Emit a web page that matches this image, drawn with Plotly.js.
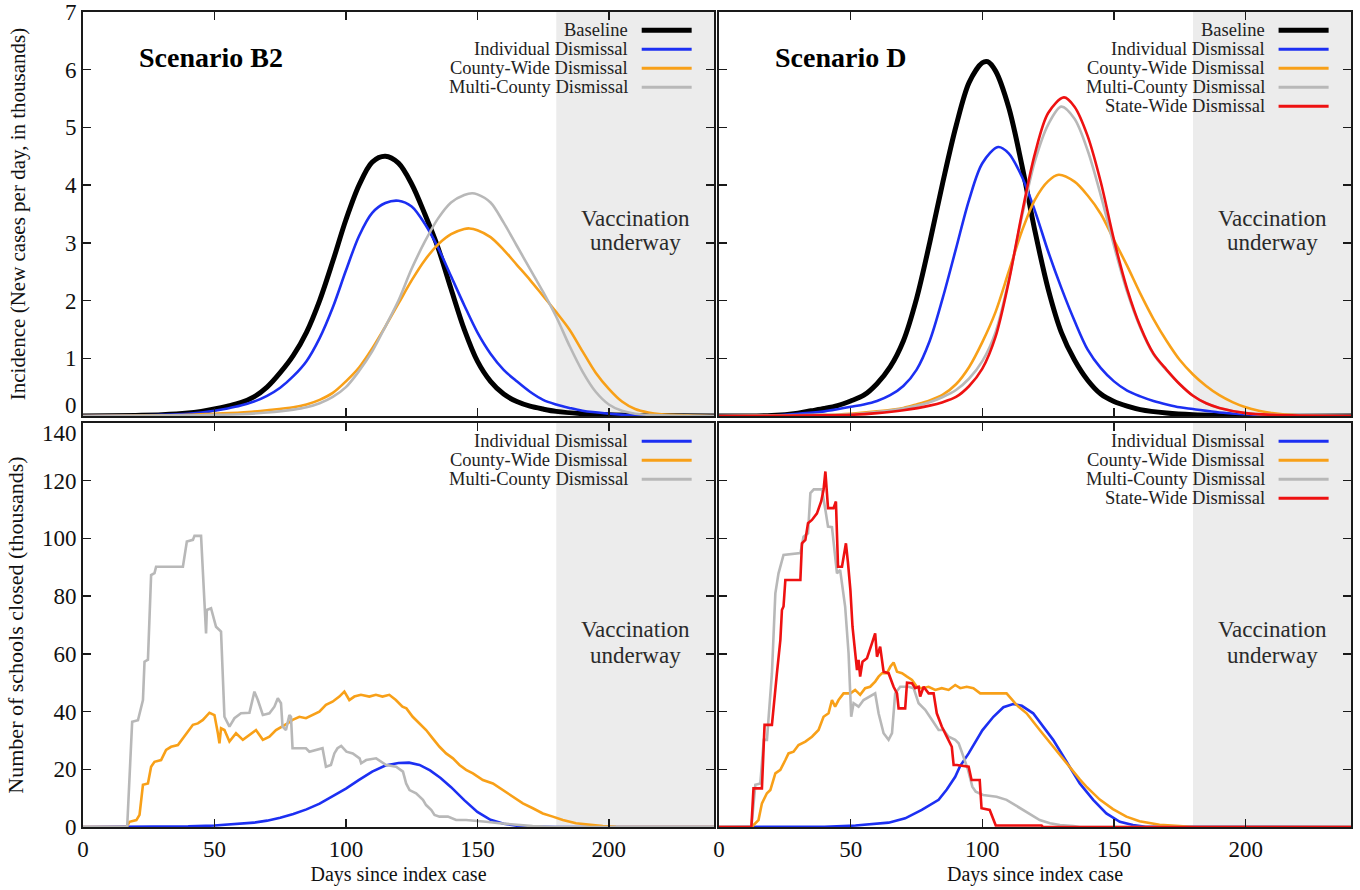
<!DOCTYPE html>
<html>
<head>
<meta charset="utf-8">
<script src="https://cdn.plot.ly/plotly-3.0.1.min.js"></script>
<style>
html, body { margin: 0; padding: 0; background: #ffffff; }
#chart { width: 1360px; height: 890px; }
</style>
</head>
<body>
<div id="chart"></div>
<script>
// ---------------- DATA ----------------
// Scenario B2, incidence (thousands of new cases per day)
const b2BaselineDays = [0,20,30,40,45,50,55,60,65,70,75,80,85,90,95,100,105,110,115,120,125,130,135,140,145,150,155,160,165,170,175,180,190,200,210,240];
const b2BaselineInc  = [0,0.01,0.02,0.05,0.08,0.12,0.17,0.23,0.33,0.5,0.75,1.05,1.45,2.0,2.68,3.4,4.0,4.4,4.5,4.38,4.02,3.5,2.92,2.2,1.5,0.95,0.6,0.38,0.25,0.17,0.12,0.08,0.04,0.02,0.01,0];
const b2IndivDays = [0,20,30,40,50,55,60,65,70,75,80,85,90,95,100,105,110,115,120,125,130,135,140,145,150,155,160,165,170,175,180,185,190,200,210,240];
const b2IndivInc  = [0,0.01,0.02,0.04,0.09,0.13,0.18,0.25,0.35,0.49,0.69,0.95,1.35,1.88,2.52,3.12,3.52,3.69,3.73,3.63,3.33,2.92,2.42,1.92,1.45,1.08,0.8,0.6,0.42,0.28,0.2,0.14,0.09,0.04,0.01,0];
const b2CountyDays = [0,30,40,50,60,70,80,85,90,95,100,105,110,115,120,125,130,135,140,145,147,150,155,160,165,170,175,180,185,190,195,200,205,210,215,220,230,240];
const b2CountyInc  = [0,0.01,0.02,0.04,0.06,0.1,0.15,0.2,0.28,0.4,0.6,0.84,1.17,1.55,1.95,2.35,2.7,2.97,3.15,3.24,3.25,3.22,3.1,2.88,2.62,2.36,2.08,1.8,1.5,1.12,0.75,0.47,0.25,0.12,0.06,0.03,0.01,0];
const b2MultiDays = [0,40,50,60,70,80,85,90,95,100,105,110,115,120,125,130,135,140,145,148,150,155,160,165,170,175,180,185,190,195,200,205,210,220,240];
const b2MultiInc  = [0,0.01,0.02,0.03,0.06,0.11,0.15,0.22,0.33,0.5,0.78,1.12,1.55,2.0,2.55,3.02,3.42,3.7,3.83,3.86,3.84,3.7,3.35,2.95,2.55,2.15,1.72,1.22,0.77,0.42,0.2,0.09,0.04,0.01,0];

// Scenario D, incidence
const dBaselineDays = [0,20,30,35,40,45,50,55,60,65,70,75,80,85,90,95,100,102,105,110,115,120,125,130,135,140,145,150,155,160,170,180,200,240];
const dBaselineInc  = [0,0.01,0.05,0.09,0.13,0.18,0.26,0.36,0.56,0.85,1.3,2.03,3.0,4.05,5.02,5.78,6.12,6.14,5.98,5.35,4.35,3.2,2.2,1.45,0.97,0.62,0.38,0.25,0.17,0.11,0.05,0.02,0,0];
const dIndivDays = [0,20,30,40,50,55,60,65,70,75,80,85,90,95,100,106,110,115,120,125,130,135,140,145,150,155,160,165,170,175,180,190,200,210,240];
const dIndivInc  = [0,0.01,0.04,0.08,0.16,0.2,0.26,0.36,0.52,0.8,1.3,2.05,2.9,3.75,4.38,4.66,4.55,4.15,3.55,2.85,2.22,1.65,1.15,0.83,0.6,0.44,0.34,0.26,0.2,0.15,0.12,0.06,0.03,0.01,0];
const dCountyDays = [0,40,50,60,70,75,80,85,90,95,100,105,110,115,120,125,129,135,140,145,150,155,160,165,170,175,180,185,190,195,200,205,210,220,240];
const dCountyInc  = [0,0.02,0.04,0.08,0.14,0.2,0.27,0.37,0.55,0.85,1.28,1.8,2.5,3.2,3.75,4.07,4.18,4.06,3.82,3.5,3.05,2.6,2.12,1.68,1.3,0.97,0.72,0.52,0.36,0.24,0.15,0.09,0.05,0.01,0];
const dMultiDays = [0,40,50,60,70,80,85,90,95,100,105,110,115,120,125,130,135,140,145,150,155,160,165,170,175,180,185,190,200,210,240];
const dMultiInc  = [0,0.02,0.03,0.07,0.13,0.24,0.33,0.45,0.65,0.95,1.45,2.35,3.45,4.42,5.05,5.36,5.15,4.6,3.82,2.95,2.15,1.53,1.07,0.79,0.55,0.35,0.22,0.14,0.05,0.02,0];
const dStateDays = [0,40,50,60,70,80,85,90,95,100,105,110,115,120,125,131,135,140,145,150,155,160,165,170,175,180,185,190,200,210,240];
const dStateInc  = [0,0.01,0.02,0.05,0.1,0.18,0.24,0.33,0.52,0.82,1.37,2.32,3.5,4.55,5.25,5.52,5.36,4.85,4.05,3.05,2.2,1.55,1.08,0.8,0.55,0.35,0.22,0.14,0.05,0.02,0];

// Scenario B2, schools closed (thousands)
const b2IndivSchDays = [0,20,40,50,60,65,70,75,80,85,90,95,100,105,110,115,120,124,128,132,136,140,145,150,155,160,165,170,180,240];
const b2IndivSch     = [0,0,0.2,0.5,1.0,1.5,2.2,3.2,4.5,6.1,8.1,10.7,13.3,16.3,19.2,21.3,22.2,22.3,21.5,19.6,17,13.8,9.3,5.2,2.5,1.1,0.45,0.15,0,0];
const b2CountySchDays = [0,16.5,17.7,20.3,21.5,22.8,24.7,25.9,27.2,29.7,31.6,33.5,36.1,38,39.2,41.8,43.7,45.6,48.1,50,51.3,51.9,52.5,53.8,55.7,58.2,60.8,63.3,65.8,68.4,70.9,73.4,75.9,77.8,79.7,82.3,84.8,87.3,89.9,92.4,94.9,97.5,99.4,101.3,103.2,105.7,108.9,111.4,113.9,116.5,119,121.5,123,125.4,128,130.5,133,135.6,138.1,140.7,143.2,145.7,148.3,152.1,155.9,159.7,163.5,167.3,171.1,174.9,178.7,182.5,187.5,192.6,197.7,202.7,210,240];
const b2CountySch     = [0,0,1.8,2.4,4.2,14.6,15.1,20.9,22.6,23.2,26.7,27.8,28.4,30.7,32.5,35.4,35.9,37.1,39.6,38.8,32.5,29,34.2,33.6,29.6,32.5,30.2,31.9,33.6,30.2,31.3,33.6,34.8,35.9,37.1,38.2,37.7,38.8,40,42.3,43.4,45.2,46.9,44,45.2,45.8,45.2,45.8,45.2,45.8,44,41.7,41.1,38.2,35.9,33.6,30.7,27.8,25.5,23.8,21.5,19.8,18.6,16.3,15.1,12.8,10.5,8.2,6.5,4.7,3.6,2.4,1.3,0.7,0.3,0.1,0,0];
const b2MultiSchDays = [0,16.8,18.7,20.9,22.8,23.4,24.7,25.9,27.2,27.8,38,39.5,41.8,42.4,44.9,46.8,47.1,48.7,50.6,52.5,53.8,55.7,57.6,60.1,63.3,65.2,66.5,68.4,70.9,72.8,74.1,75.3,75.9,77.2,78.5,79.1,79.7,84.8,86.1,88.6,91.1,92.4,94.3,95.6,96.8,98.2,100.2,102.6,105.2,105.8,107.7,111.5,115.3,119.1,121.7,122.9,124.2,126.7,129.3,130.5,132.5,133.7,135.6,138.8,141.9,145.7,149.5,153.3,158.4,164.7,171,177.4,185,240];
const b2MultiSch     = [0,0,36.5,37,44,57.3,58,87.3,88,90.2,90.2,98.9,99.5,100.9,100.9,67.1,75.2,75.8,69.4,67.7,38.2,34.8,37.7,39.4,39.6,46.9,44,38.8,39.4,41.7,44.6,42.9,34.8,33.6,38.8,38.2,27.3,27.3,26.1,26.7,27.3,20.9,21.5,25.5,27.3,28.1,26.1,25.5,23.8,22.1,23.2,23.8,21.5,20.9,19.2,15.1,12.8,11.7,9.4,7.6,5.9,4.2,3.6,3.6,2.4,2.4,2.2,1.8,1.3,0.7,0.3,0.1,0,0];

// Scenario D, schools closed (thousands)
const dIndivSchDays = [0,30,40,51.8,64.4,70.7,77,83.4,86.5,89.7,91.5,94.8,97.8,100,104.2,108,111.7,115,119.3,122,126.9,132,137,142.1,147.1,152.2,157.2,162,240];
const dIndivSch     = [0,0,0.1,0.5,1.5,3,5.9,9.4,13,17.4,21,25.5,30.2,33.5,38.2,41.5,42.6,42,39.4,36,30.2,22.6,15.1,9.4,4.7,1.8,0.7,0.1,0];
const dCountySchDays = [0,12.4,15,16.3,18.2,19.5,21.4,23.3,25.2,26.4,28.3,30.2,32.8,35.3,37.8,39.7,41.6,42.9,44.1,45.4,47.3,49.9,51.7,53.6,55.5,57.4,59.3,60.6,61.9,63.8,65.1,66.3,67.6,69.5,71.4,73.3,75.1,77,79.6,82.1,84.6,87.2,89.7,91.6,94.1,96.6,99.2,104.2,109.2,113,116.8,121.8,126.9,132,137,139.5,144.6,149.6,154.7,159.7,167.3,174.9,180,240];
const dCountySch     = [0,0,2.4,8.2,11.7,12.8,18.6,19.8,23.2,25.5,26.1,28.4,29.6,31.3,33.6,38.2,39.4,44,41.7,44,46.3,46.3,47.5,45.8,48.1,48.6,50.4,52.1,53.3,53.3,55.6,57,53.8,53.3,52.1,51,48.6,48.1,48.6,47.5,48.1,47.5,49.2,48.1,48.6,48.1,46.3,46.3,46.3,42.3,39.4,33.6,27.8,22.1,16.5,14,9.5,6.2,3.6,2.0,0.8,0.3,0,0];
const dMultiSchDays = [0,12.3,13.8,15.7,17,18.2,20.1,21.4,22.6,24.5,30.9,32.1,33.8,34.7,36,39.1,40.4,41.4,42.9,44.8,46,47.9,49.2,50.2,51.1,53,54.9,57.4,59.3,60.6,62.5,64.4,65.7,66.9,68.8,72,73.9,75.8,78.3,80.9,83.4,85.3,87.2,89.7,91,92.2,94.5,96.2,97.5,100.3,105.4,109.2,112.4,115.5,118.1,121.8,125.7,129.5,134.6,137,240];
const dMultiSch     = [0,0,14.6,15.1,30.2,30.2,53.3,81,87.9,94.3,94.9,100.6,101.8,115.7,117,117,109.9,104.1,103.9,87.9,89.1,76.4,60.2,38.2,42.9,41.7,44,45.2,46.3,39.4,32.5,30.2,32.5,46.3,48.6,48.6,48.1,42.9,40.6,37.1,33.6,33.6,31.3,30.2,29,26,20,14,12.2,11.1,10.5,9.4,7.6,5.9,4.2,2.4,1.3,0.7,0.3,0,0];
const dStateSchDays = [0,12.3,13.1,16.3,17.3,20.1,22,23.3,23.9,24.5,25.2,30.9,31.5,32.8,33.8,35.3,37.2,38.8,39.7,40.4,41.4,43.5,44.4,45.2,46.7,48.2,49,49.9,50.7,51.7,52.4,53,53.6,54.5,56.2,58.1,59.3,60,61.2,62.5,64.4,66.3,67.6,68.2,70.7,71.4,73.3,74.5,75.8,76.4,77.7,79.6,81.5,82.7,84.6,86.5,88.4,89.1,90.3,94.8,95.9,99,99.7,102.8,104.1,105.1,122.5,123,240];
const dStateSch     = [0,0,13.4,13.4,35.4,35.4,53.3,64.8,75.2,76.4,85.6,85.6,98.3,99.5,105.3,106.4,108.7,112.8,116.8,123.2,110.5,110.5,112.8,90.2,90.2,98.3,91.4,82.1,69.4,60.2,54.4,57.9,52.1,57.3,58.5,63.7,67.1,59,62.5,53.8,53.3,48.6,46.3,41.1,41.1,50,49.8,48.1,48.6,45.2,48.6,46.3,46.3,39.4,34.8,31.3,27.8,21.5,21.5,20.9,16.3,16.3,6.5,5.9,2.4,0.5,0.5,0,0];

// Axis ticks / labels
const dayTicks = [0,50,100,150,200];
const incTicks = [0,1,2,3,4,5,6,7];
const schTicks = [0,20,40,60,80,100,120,140];
const vaccinationStart = 180;
const dayMax = 240;
const seriesNames = {
  baseline: 'Baseline',
  indiv: 'Individual Dismissal',
  county: 'County-Wide Dismissal',
  multi: 'Multi-County Dismissal',
  state: 'State-Wide Dismissal'
};

// ---------------- STYLE ----------------
const FONT = '"Liberation Serif", "Times New Roman", Times, serif';
const COL = {baseline:'#000000', indiv:'#1c2ff2', county:'#f8a018', multi:'#b8b8b8', state:'#ee1111'};
const WID = {baseline:5, indiv:2.6, county:2.6, multi:2.6, state:2.6};
const TICK_SIZE = 23;

function tr(x, y, key, xa, ya, smooth) {
  return {
    type: 'scatter', mode: 'lines', x: x, y: y, xaxis: xa, yaxis: ya,
    name: seriesNames[key], showlegend: false, hoverinfo: 'skip',
    line: smooth ? {color: COL[key], width: WID[key], shape: 'spline', smoothing: 0.9}
                 : {color: COL[key], width: WID[key]}
  };
}

const traces = [
  tr(b2BaselineDays, b2BaselineInc, 'baseline', 'x', 'y', true),
  tr(b2IndivDays, b2IndivInc, 'indiv', 'x', 'y', true),
  tr(b2CountyDays, b2CountyInc, 'county', 'x', 'y', true),
  tr(b2MultiDays, b2MultiInc, 'multi', 'x', 'y', true),

  tr(dBaselineDays, dBaselineInc, 'baseline', 'x2', 'y2', true),
  tr(dIndivDays, dIndivInc, 'indiv', 'x2', 'y2', true),
  tr(dCountyDays, dCountyInc, 'county', 'x2', 'y2', true),
  tr(dMultiDays, dMultiInc, 'multi', 'x2', 'y2', true),
  tr(dStateDays, dStateInc, 'state', 'x2', 'y2', true),

  tr(b2IndivSchDays, b2IndivSch, 'indiv', 'x3', 'y3', false),
  tr(b2CountySchDays, b2CountySch, 'county', 'x3', 'y3', false),
  tr(b2MultiSchDays, b2MultiSch, 'multi', 'x3', 'y3', false),

  tr(dIndivSchDays, dIndivSch, 'indiv', 'x4', 'y4', false),
  tr(dCountySchDays, dCountySch, 'county', 'x4', 'y4', false),
  tr(dMultiSchDays, dMultiSch, 'multi', 'x4', 'y4', false),
  tr(dStateSchDays, dStateSch, 'state', 'x4', 'y4', false)
];

const W = 1360, H = 890;
const XL = [83 / W, 714 / W];
const XR = [719 / W, 1351 / W];
const YT = [1 - 416 / H, 1 - 12 / H];
const YB = [1 - 827 / H, 1 - 423 / H];

function ax(extra) {
  return Object.assign({
    showline: true, linecolor: '#1a1a1a', linewidth: 2, mirror: 'ticks',
    ticks: 'inside', ticklen: 8, tickwidth: 1.5, tickcolor: '#1a1a1a',
    showgrid: false, zeroline: false, fixedrange: true, automargin: false,
    tickfont: {family: FONT, size: TICK_SIZE, color: '#111'}
  }, extra);
}

const xTitle = {text: 'Days since index case', font: {family: FONT, size: 20, color: '#111'}, standoff: 6};

const layout = {
  width: W, height: H,
  margin: {l: 0, r: 0, t: 0, b: 0},
  paper_bgcolor: '#ffffff', plot_bgcolor: 'rgba(0,0,0,0)',
  showlegend: false,
  font: {family: FONT, color: '#111'},
  xaxis:  ax({domain: XL, anchor: 'y',  range: [0, dayMax], tickvals: dayTicks, showticklabels: false}),
  xaxis2: ax({domain: XR, anchor: 'y2', range: [0, dayMax], tickvals: dayTicks, showticklabels: false}),
  xaxis3: ax({domain: XL, anchor: 'y3', range: [0, dayMax], tickvals: dayTicks, title: xTitle}),
  xaxis4: ax({domain: XR, anchor: 'y4', range: [0, dayMax], tickvals: dayTicks, title: xTitle}),
  yaxis:  ax({domain: YT, anchor: 'x',  range: [0, 7], tickvals: incTicks,
              ticktext: incTicks.map(v => v === 0 ? '' : String(v)),
              title: {text: 'Incidence (New cases per day, in thousands)', font: {family: FONT, size: 21, color: '#111'}, standoff: 34}}),
  yaxis2: ax({domain: YT, anchor: 'x2', range: [0, 7], tickvals: incTicks, showticklabels: false}),
  yaxis3: ax({domain: YB, anchor: 'x3', range: [0, 140], tickvals: schTicks,
              ticktext: schTicks.map(v => v === 140 ? '' : String(v)),
              title: {text: 'Number of schools closed (thousands)', font: {family: FONT, size: 22, color: '#111'}, standoff: 12}}),
  yaxis4: ax({domain: YB, anchor: 'x4', range: [0, 140], tickvals: schTicks, showticklabels: false}),
  shapes: [],
  annotations: []
};

// vaccination shading
[['x','y'],['x2','y2'],['x3','y3'],['x4','y4']].forEach(([xa, ya]) => {
  layout.shapes.push({type: 'rect', xref: xa, yref: ya + ' domain', x0: vaccinationStart, x1: dayMax, y0: 0, y1: 1,
    fillcolor: '#ececec', line: {width: 0}, layer: 'below'});
});

// vaccination labels (two lines each)
function vacc(xa, ya, y1, y2) {
  layout.annotations.push(
    {xref: xa, yref: ya, x: 210, y: y1, text: 'Vaccination', showarrow: false, font: {family: FONT, size: 23, color: '#2a2a2a'}},
    {xref: xa, yref: ya, x: 210, y: y2, text: 'underway', showarrow: false, font: {family: FONT, size: 23, color: '#2a2a2a'}}
  );
}
vacc('x', 'y', 3.43, 3.0);
vacc('x2', 'y2', 3.43, 3.0);
vacc('x3', 'y3', 68.6, 59.6);
vacc('x4', 'y4', 68.6, 59.6);

// scenario labels
layout.annotations.push(
  {xref: 'x',  yref: 'y',  x: 20.5, y: 6.22, xanchor: 'left', text: '<b>Scenario B2</b>', showarrow: false, font: {family: FONT, size: 28, color: '#000'}},
  {xref: 'x2', yref: 'y2', x: 20.5, y: 6.22, xanchor: 'left', text: '<b>Scenario D</b>', showarrow: false, font: {family: FONT, size: 28, color: '#000'}}
);

// shifted end tick labels ("0" of the upper panel and "140" of the lower panel)
layout.annotations.push(
  {xref: 'paper', yref: 'y',  x: 79 / W, y: 0.19, xanchor: 'right', text: '0', showarrow: false, font: {family: FONT, size: TICK_SIZE, color: '#111'}},
  {xref: 'paper', yref: 'y3', x: 79 / W, y: 136.2, xanchor: 'right', text: '140', showarrow: false, font: {family: FONT, size: TICK_SIZE, color: '#111'}}
);

// in-panel legends (text right-aligned, line sample on the right)
const rows = [0.955, 0.908, 0.861, 0.814, 0.767];
function legend(xa, ya, keys) {
  keys.forEach((k, i) => {
    layout.annotations.push({xref: xa, yref: ya + ' domain', x: 208, y: rows[i], xanchor: 'right', yanchor: 'middle',
      text: seriesNames[k], showarrow: false, font: {family: FONT, size: 18.5, color: '#222'}});
    layout.shapes.push({type: 'line', xref: xa, yref: ya + ' domain', x0: 212.5, x1: 231.5, y0: rows[i], y1: rows[i],
      line: {color: COL[k], width: k === 'baseline' ? 5 : 3}});
  });
}
legend('x',  'y',  ['baseline','indiv','county','multi']);
legend('x2', 'y2', ['baseline','indiv','county','multi','state']);
legend('x3', 'y3', ['indiv','county','multi']);
legend('x4', 'y4', ['indiv','county','multi','state']);

Plotly.newPlot('chart', traces, layout, {displayModeBar: false, staticPlot: true});
</script>
</body>
</html>
